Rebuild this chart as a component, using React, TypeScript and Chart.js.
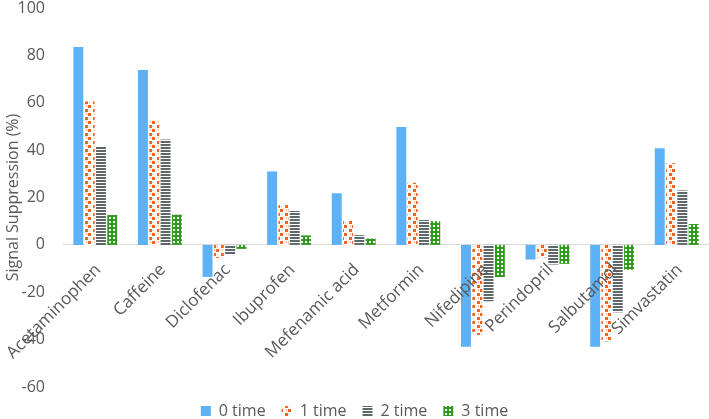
import React, { useEffect, useRef } from "react";
import { Chart, registerables } from "chart.js";

Chart.register(...registerables);

const categories = [
  "Acetaminophen",
  "Caffeine",
  "Diclofenac",
  "Ibuprofen",
  "Mefenamic acid",
  "Metformin",
  "Nifedipine",
  "Perindopril",
  "Salbutamol",
  "Simvastatin",
];
const seriesNames = ["0 time", "1 time", "2 time", "3 time"];
const time0 = [83.5, 73.8, -13.5, 31, 21.8, 49.8, -43, -6.2, -43, 40.8];
const time1 = [60.5, 52.3, -5.5, 16.8, 10.2, 26.2, -38, -5.3, -40.8, 34.5];
const time2 = [41.3, 44.5, -4.3, 14.3, 4.1, 10.5, -23.8, -8.3, -28.5, 23];
const time3 = [12.6, 12.8, -1.7, 4.0, 2.7, 10, -13.6, -8, -10.5, 8.8];
const yMin = -60;
const yMax = 100;
const yStep = 20;

const TEXT = "#595959";
const FONT = "'Open Sans', 'DejaVu Sans', sans-serif";

function makePattern(w: number, h: number, draw: (c: CanvasRenderingContext2D) => void) {
  const cv = document.createElement("canvas");
  cv.width = w;
  cv.height = h;
  const c = cv.getContext("2d")!;
  draw(c);
  return c.createPattern(cv, "repeat")!;
}

export default function App() {
  const ref = useRef<HTMLCanvasElement>(null);

  useEffect(() => {
    const orange = makePattern(8, 8, (c) => {
      c.fillStyle = "#ffffff";
      c.fillRect(0, 0, 8, 8);
      c.fillStyle = "#F5621A";
      c.fillRect(0, 1, 3, 3);
      c.fillRect(5, 5, 3, 3);
      c.fillStyle = "#FBB38F";
      c.fillRect(6, 1, 1, 2);
      c.fillRect(1, 6, 1, 1);
    });
    const gray = makePattern(4, 3, (c) => {
      c.fillStyle = "#ffffff";
      c.fillRect(0, 0, 4, 3);
      c.fillStyle = "#5E6869";
      c.fillRect(0, 0, 4, 2);
    });
    const green = makePattern(4, 4, (c) => {
      c.fillStyle = "#2F9A1C";
      c.fillRect(0, 0, 4, 4);
      c.fillStyle = "#ffffff";
      c.fillRect(1, 1, 2, 2);
    });

    const values = [time0, time1, time2, time3];
    const fills: any[] = ["#5DB1F6", orange, gray, green];

    const chart = new Chart(ref.current!, {
      type: "bar",
      data: {
        labels: categories,
        datasets: values.map((v, i) => ({
          label: seriesNames[i],
          data: v,
          backgroundColor: fills[i],
          borderWidth: 0,
          categoryPercentage: 0.7,
          barPercentage: 0.88,
        })),
      },
      options: {
        animation: false,
        responsive: true,
        maintainAspectRatio: false,
        layout: { padding: { top: 0, bottom: -10, left: 0, right: 0 } },
        plugins: {
          tooltip: { enabled: false },
          legend: {
            position: "bottom",
            labels: {
              boxWidth: 10,
              boxHeight: 10,
              padding: 16,
              color: TEXT,
              font: { family: FONT, size: 16 },
            },
          },
        },
        scales: {
          x: {
            type: "category",
            position: { y: 0 } as any,
            grid: { display: false, drawTicks: false },
            border: { display: true, color: "#D9D9D9", width: 1 },
            ticks: {
              z: 1,
              autoSkip: false,
              minRotation: 45,
              maxRotation: 45,
              padding: 15,
              labelOffset: 3,
              color: TEXT,
              font: { family: FONT, size: 17 },
            },
            afterFit: (s: any) => {
              s.height = 0;
              s.paddingLeft = 0;
              s.paddingRight = 0;
              s.paddingTop = 0;
              s.paddingBottom = 0;
            },
          },
          y: {
            min: yMin,
            max: yMax,
            grid: { display: false, drawTicks: false },
            border: { display: false },
            ticks: {
              stepSize: yStep,
              padding: 18,
              color: TEXT,
              font: { family: FONT, size: 16 },
            },
            title: {
              display: true,
              text: "Signal Suppression (%)",
              color: TEXT,
              font: { family: FONT, size: 16 },
              padding: { top: 4, bottom: 4 },
            },
            afterFit: (s: any) => {
              s.width = 63;
              s.paddingTop = 8;
              s.paddingBottom = 0;
            },
          },
        },
      },
    });
    return () => chart.destroy();
  }, []);

  return (
    <div style={{ position: "absolute", left: 0, top: 0, width: 709, height: 419 }}>
      <canvas ref={ref} />
    </div>
  );
}
